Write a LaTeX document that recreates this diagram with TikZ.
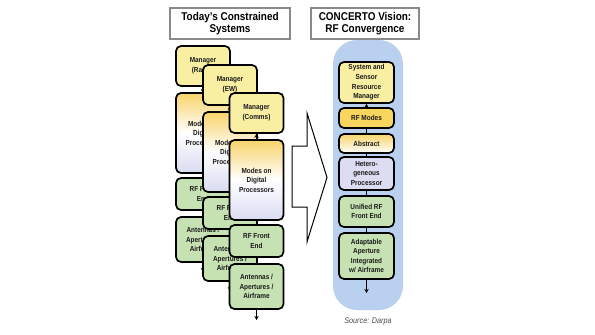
\documentclass[tikz,border=0pt]{standalone}
\usepackage{fontspec}
\setmainfont{Liberation Sans}[FakeStretch=0.88]
\usetikzlibrary{arrows.meta}

\definecolor{mgrfill}{HTML}{F9EFA3}
\definecolor{modetop}{HTML}{F8D46A}
\definecolor{modebot}{HTML}{D9DBF1}
\definecolor{rffill}{HTML}{C6E2B2}
\definecolor{rfmodes}{HTML}{F8D55E}
\definecolor{procfill}{HTML}{DCDDF2}
\definecolor{colblue}{HTML}{B9D1EE}
\definecolor{titleline}{HTML}{8A8A8A}

\begin{document}
\begin{tikzpicture}[x=1pt,y=-1pt,
   box/.style={draw,line width=1.7pt,rounded corners=5pt,minimum width=54pt,
               inner sep=1pt,align=center,text=black!90,
               font=\bfseries\fontsize{7.3}{9.6}\selectfont},
   mgr/.style={box,fill=mgrfill},
   modes/.style={box,top color=modetop,bottom color=modebot,middle color=white},
   front/.style={box,fill=rffill},
   title/.style={draw=titleline,line width=1.5pt,fill=white,align=center,
                 font=\bfseries\fontsize{11.3}{11.8}\selectfont},
   link/.style={line width=1.1pt},
   tip/.style={-{Stealth[length=4pt,width=4.5pt]}}]
   \useasboundingbox (0,0) rectangle (595,335);

   % titles
   \node[title,minimum width=120pt,minimum height=31pt] (tleft) at (230,23.5)
        {Today's Constrained\\Systems};
   \node[title,minimum width=108pt,minimum height=31pt] (tright) at (365,23.5)
        {CONCERTO Vision:\\RF Convergence};

   % stacked systems, back to front
   \node[mgr,minimum height=40pt]   (mgr1)   at (203,66)    {Manager\\(Radar)};
   \node[modes,minimum height=80pt] (modes1) at (203,133)   {Modes on\\Digital\\Processors};
   \node[front,minimum height=32pt] (rf1)    at (203,194)   {RF Front\\End};
   \node[front,minimum height=45pt] (ant1)   at (203,239.5) {Antennas /\\Apertures /\\Airframe};
   \coordinate (end1) at (203,272);
   \draw[link,tip] (modes1) -- (mgr1);
   \draw[link] (modes1) -- (rf1);
   \draw[link] (rf1) -- (ant1);
   \draw[link,tip] (ant1) -- (end1);

   \node[mgr,minimum height=40pt]   (mgr2)   at (230,85)    {Manager\\(EW)};
   \node[modes,minimum height=80pt] (modes2) at (230,152)   {Modes on\\Digital\\Processors};
   \node[front,minimum height=32pt] (rf2)    at (230,213)   {RF Front\\End};
   \node[front,minimum height=45pt] (ant2)   at (230,258.5) {Antennas /\\Apertures /\\Airframe};
   \coordinate (end2) at (230,291);
   \draw[link,tip] (modes2) -- (mgr2);
   \draw[link] (modes2) -- (rf2);
   \draw[link] (rf2) -- (ant2);
   \draw[link,tip] (ant2) -- (end2);

   \node[mgr,minimum height=40pt]   (mgr3)   at (256.5,113)   {Manager\\(Comms)};
   \node[modes,minimum height=80pt] (modes3) at (256.5,180)   {Modes on\\Digital\\Processors};
   \node[front,minimum height=32pt] (rf3)    at (256.5,241)   {RF Front\\End};
   \node[front,minimum height=45pt] (ant3)   at (256.5,286.5) {Antennas /\\Apertures /\\Airframe};
   \coordinate (end3) at (256.5,320);
   \draw[link,tip] (modes3) -- (mgr3);
   \draw[link] (modes3) -- (rf3);
   \draw[link] (rf3) -- (ant3);
   \draw[link,tip] (ant3) -- (end3);

   % big arrow
   \draw[line width=1pt,fill=white] (292,146) -- (307,146) -- (307,113) -- (327,177.5)
        -- (307,242) -- (307,207) -- (292,207) -- cycle;

   % converged column
   \fill[colblue,rounded corners=24pt] (333,40) rectangle (403,310);
   \node[mgr,minimum width=55pt,minimum height=41pt] (srm) at (366.5,82.5)
        {System and\\Sensor\\Resource\\Manager};
   \node[box,fill=rfmodes,minimum width=55pt,minimum height=20pt] (rfm) at (366.5,118)
        {RF Modes};
   \node[box,top color=modetop,bottom color=white,minimum width=55pt,minimum height=19pt]
        (abs) at (366.5,143.5) {Abstract};
   \node[box,fill=procfill,minimum width=55pt,minimum height=33pt] (proc) at (366.5,173.5)
        {Hetero-\\geneous\\Processor};
   \node[front,minimum width=55pt,minimum height=31pt] (urf) at (366.5,211.5)
        {Unified RF\\Front End};
   \node[front,minimum width=55pt,minimum height=46pt] (aper) at (366.5,256)
        {Adaptable\\Aperture\\Integrated\\w/ Airframe};
   \coordinate (rend) at (366.5,293);
   \draw[link,tip] (rfm) -- (srm);
   \draw[link] (rfm) -- (abs);
   \draw[link] (abs) -- (proc);
   \draw[link] (proc) -- (urf);
   \draw[link] (urf) -- (aper);
   \draw[link,tip] (aper) -- (rend);

   \node[text=black!70,font=\itshape\fontsize{8.2}{9}\selectfont] (src) at (368,321)
        {Source: Darpa};
\end{tikzpicture}
\end{document}
